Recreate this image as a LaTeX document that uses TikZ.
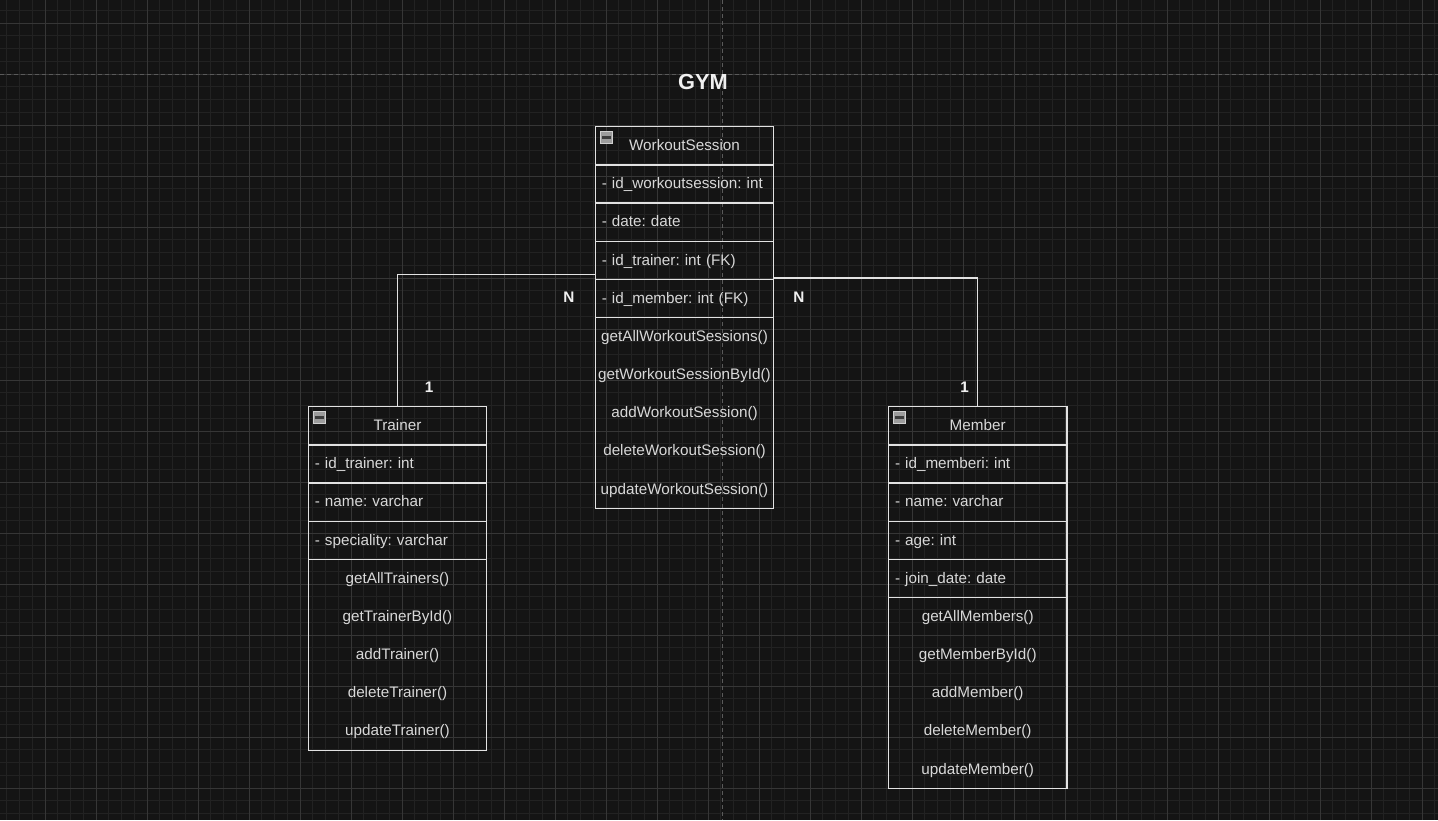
\documentclass[tikz,border=0pt]{standalone}
\usepackage{fontspec}
\setmainfont{Liberation Sans}
\frenchspacing
\definecolor{bgc}{HTML}{141414}
\definecolor{minorc}{HTML}{222222}
\definecolor{majorc}{HTML}{363636}
\definecolor{pagec}{HTML}{5A5A5A}
\definecolor{linec}{HTML}{E2E2E2}
\definecolor{txtc}{HTML}{D8D8D8}
\definecolor{lblc}{HTML}{F0F0F0}
\definecolor{iconf}{HTML}{9C9C9C}
\definecolor{icond}{HTML}{D0D0D0}
\definecolor{iconb}{HTML}{3C3C3C}
\tikzset{
  row/.style={draw=linec, line width=1.3pt, anchor=north west, minimum height=38.2pt,
    inner sep=0pt, inner xsep=6.5pt, outer sep=0pt, text width=165.4pt, align=left,
    font=\fontsize{15.25}{18}\selectfont, text=txtc, text height=12pt, text depth=2.5pt},
  hdr/.style={row, align=center},
  mregion/.style={draw=linec, line width=1.3pt, anchor=north west, minimum width=178.4pt,
    minimum height=191pt, inner sep=0pt, outer sep=0pt},
  meth/.style={font=\fontsize{15.25}{18}\selectfont, text=txtc, inner sep=0pt,
    text height=11pt, text depth=3.5pt},
  card/.style={font=\bfseries\fontsize{15.3}{18}\selectfont, text=lblc, inner sep=0pt},
  conn/.style={draw=linec, line width=1.3pt},
  icon/.style={fill=iconf, draw=icond, line width=0.8pt},
}
\newcommand{\clsicon}[1]{%
  \filldraw[icon] ([shift={(4.8,5)}]#1.north west) rectangle ([shift={(16.8,16.6)}]#1.north west);
  \fill[iconb] ([shift={(6.3,9.6)}]#1.north west) rectangle ([shift={(15.3,12.2)}]#1.north west);
}
\begin{document}
\begin{tikzpicture}[x=1pt,y=-1pt]
\useasboundingbox (0,0) rectangle (1438,820);
\fill[bgc] (0,0) rectangle (1438,820);
% grid
\foreach \i in {0,...,112} \draw[minorc, line width=1pt] (6.75+12.75*\i,0) -- (6.75+12.75*\i,820);
\foreach \i in {0,...,64} \draw[minorc, line width=1pt] (0,10.25+12.75*\i) -- (1438,10.25+12.75*\i);
\foreach \i in {0,...,27} \draw[majorc, line width=1pt] (45+51*\i,0) -- (45+51*\i,820);
\foreach \i in {0,...,15} \draw[majorc, line width=1pt] (0,23+51*\i) -- (1438,23+51*\i);
\draw[pagec, line width=1pt, dash pattern=on 4pt off 3pt] (0,74.5) -- (1438,74.5);
\draw[pagec, line width=1pt, dash pattern=on 4pt off 3pt] (722,0) -- (722,820);

% title
\node[font=\bfseries\fontsize{21.8}{24}\selectfont, text=lblc, inner sep=0pt] (title) at (703,82) {GYM};

% WorkoutSession
\node[hdr] (wsh) at (595.3,126.7) {WorkoutSession};
\node[row] (ws1) at (595.3,164.9) {- id\_workoutsession: int};
\node[row] (ws2) at (595.3,203.1) {- date: date};
\node[row] (ws3) at (595.3,241.3) {- id\_trainer: int (FK)};
\node[row] (ws4) at (595.3,279.5) {- id\_member: int (FK)};
\node[mregion] (wsm) at (595.3,317.7) {};
\node[meth] (wsm1) at ([yshift=-19.8pt]wsm.north) {getAllWorkoutSessions()};
\node[meth] (wsm2) at ([yshift=-58pt]wsm.north) {getWorkoutSessionById()};
\node[meth] (wsm3) at ([yshift=-96.2pt]wsm.north) {addWorkoutSession()};
\node[meth] (wsm4) at ([yshift=-134.4pt]wsm.north) {deleteWorkoutSession()};
\node[meth] (wsm5) at ([yshift=-172.6pt]wsm.north) {updateWorkoutSession()};
\clsicon{wsh}

% Trainer
\node[hdr] (trh) at (308.3,406.7) {Trainer};
\node[row] (tr1) at (308.3,444.9) {- id\_trainer: int};
\node[row] (tr2) at (308.3,483.1) {- name: varchar};
\node[row] (tr3) at (308.3,521.3) {- speciality: varchar};
\node[mregion] (trm) at (308.3,559.5) {};
\node[meth] (trm1) at ([yshift=-19.8pt]trm.north) {getAllTrainers()};
\node[meth] (trm2) at ([yshift=-58pt]trm.north) {getTrainerById()};
\node[meth] (trm3) at ([yshift=-96.2pt]trm.north) {addTrainer()};
\node[meth] (trm4) at ([yshift=-134.4pt]trm.north) {deleteTrainer()};
\node[meth] (trm5) at ([yshift=-172.6pt]trm.north) {updateTrainer()};
\clsicon{trh}

% Member
\node[hdr] (mbh) at (888.5,406.7) {Member};
\node[row] (mb1) at (888.5,444.9) {- id\_memberi: int};
\node[row] (mb2) at (888.5,483.1) {- name: varchar};
\node[row] (mb3) at (888.5,521.3) {- age: int};
\node[row] (mb4) at (888.5,559.5) {- join\_date: date};
\node[mregion] (mbm) at (888.5,597.7) {};
\node[meth] (mbm1) at ([yshift=-19.8pt]mbm.north) {getAllMembers()};
\node[meth] (mbm2) at ([yshift=-58pt]mbm.north) {getMemberById()};
\node[meth] (mbm3) at ([yshift=-96.2pt]mbm.north) {addMember()};
\node[meth] (mbm4) at ([yshift=-134.4pt]mbm.north) {deleteMember()};
\node[meth] (mbm5) at ([yshift=-172.6pt]mbm.north) {updateMember()};
\clsicon{mbh}

% connectors
\draw[conn] ([yshift=-14.2pt]ws3.west) -| (trh.north);
\draw[conn] ([yshift=-17.5pt]ws3.east) -| (mbh.north);

% cardinalities
\node[card] (nL) at (569,297.7) {N};
\node[card] (oneL) at (429,387) {1};
\node[card] (nR) at (799,297.7) {N};
\node[card] (oneR) at (964.5,387) {1};
\end{tikzpicture}
\end{document}
